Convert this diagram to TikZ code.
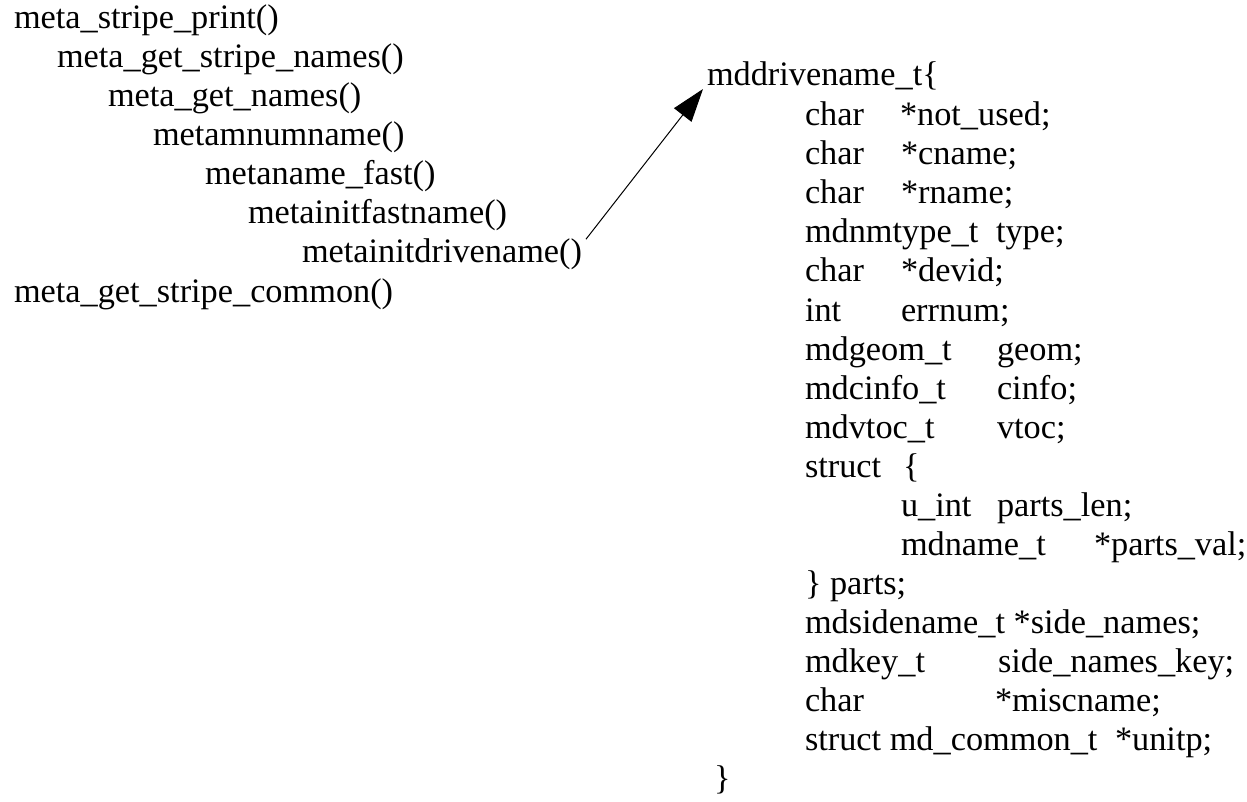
\documentclass[tikz,border=0pt]{standalone}
\usepackage{fontspec}
\setmainfont{Liberation Serif}
\usetikzlibrary{arrows.meta}
\begin{document}
\begin{tikzpicture}[x=1pt,y=-1pt,
  code/.style={anchor=base west, inner sep=0pt, outer sep=0pt,
               font=\fontsize{34.3}{40}\selectfont},
  callarrow/.style={line width=1pt, -{Triangle[length=33pt,width=22pt]}}]
\useasboundingbox (0,0) rectangle (1247,802);

% call chain
\node[code] (a1) at (14,29)  {meta\_stripe\_print()};
\node[code] (a2) at (57,68)  {meta\_get\_stripe\_names()};
\node[code] (a3) at (108,107) {meta\_get\_names()};
\node[code] (a4) at (153,146) {metamnumname()};
\node[code] (a5) at (205,185) {metaname\_fast()};
\node[code] (a6) at (248,224) {metainitfastname()};
\node[code] (a7) at (302,263) {metainitdrivename()};
\node[code] (a8) at (14,302) {meta\_get\_stripe\_common()};

% structure definition
\node[code] (hdr) at (707,86) {mddrivename\_t\{};

\node[code] (t1) at (805,126) {char};
\node[code] (v1) at (900,126) {*not\_used;};
\node[code] (t2) at (805,165) {char};
\node[code] (v2) at (901,165) {*cname;};
\node[code] (t3) at (805,204) {char};
\node[code] (v3) at (901,204) {*rname;};
\node[code] (t4) at (805,243) {mdnmtype\_t};
\node[code] (v4) at (996,243) {type;};
\node[code] (t5) at (805,282) {char};
\node[code] (v5) at (901,282) {*devid;};
\node[code] (t6) at (805,321) {int};
\node[code] (v6) at (901,321) {errnum;};
\node[code] (t7) at (805,360) {mdgeom\_t};
\node[code] (v7) at (997,360) {geom;};
\node[code] (t8) at (805,399) {mdcinfo\_t};
\node[code] (v8) at (997,399) {cinfo;};
\node[code] (t9) at (805,438) {mdvtoc\_t};
\node[code] (v9) at (997,438) {vtoc;};
\node[code] (t10) at (805,477) {struct};
\node[code] (v10) at (903,477) {\{};
\node[code] (t11) at (901,516) {u\_int};
\node[code] (v11) at (997,516) {parts\_len;};
\node[code] (t12) at (901,555) {mdname\_t};
\node[code] (v12) at (1094,555) {*parts\_val;};
\node[code] (t13) at (805,594) {\} parts;};
\node[code] (t14) at (805,633) {mdsidename\_t *side\_names;};
\node[code] (t15) at (805,672) {mdkey\_t};
\node[code] (v15) at (998,672) {side\_names\_key;};
\node[code] (t16) at (805,711) {char};
\node[code] (v16) at (995,711) {*miscname;};
\node[code] (t17) at (805,750) {struct md\_common\_t};
\node[code] (v17) at (1115,750) {*unitp;};
\node[code] (end) at (714,789) {\}};

% reference from the call chain to the structure
\draw[callarrow] ([xshift=4pt]a7.north east) -- ([xshift=-4pt,yshift=-3pt]hdr.base west);
\end{tikzpicture}
\end{document}
